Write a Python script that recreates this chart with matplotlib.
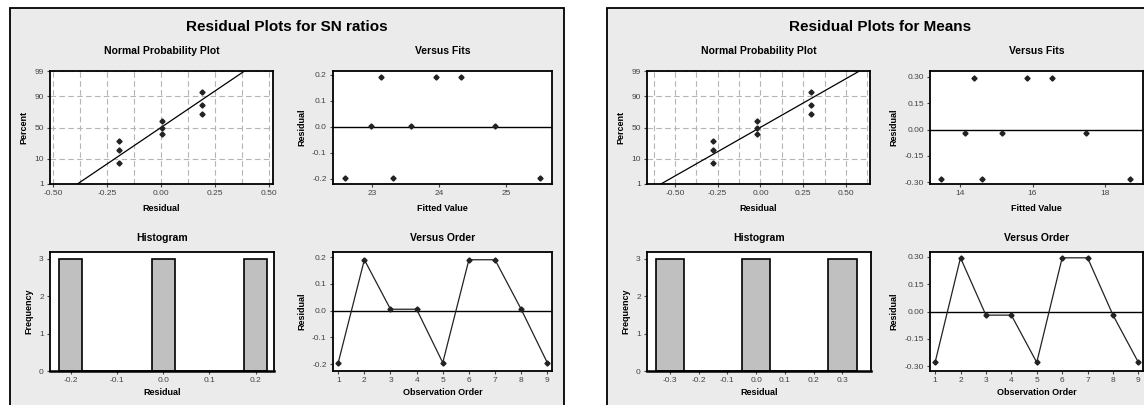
import numpy as np
import matplotlib
matplotlib.use('Agg')
import matplotlib.pyplot as plt
from matplotlib.patches import Rectangle
from matplotlib.ticker import MultipleLocator, FormatStrFormatter
from statistics import NormalDist

plt.rcParams['font.family'] = ['Liberation Sans', 'DejaVu Sans']

# observation order 1..9
order = [1, 2, 3, 4, 5, 6, 7, 8, 9]

# SN ratios
sn_resid = [-0.195, 0.19, 0.005, 0.005, -0.195, 0.19, 0.19, 0.005, -0.195]
sn_fits = [22.60, 23.13, 22.99, 23.58, 23.31, 23.96, 24.33, 24.84, 25.51]

# Means
mn_resid = [-0.28, 0.295, -0.02, -0.02, -0.28, 0.295, 0.295, -0.02, -0.28]
mn_fits = [13.47, 14.39, 14.14, 15.15, 14.59, 15.85, 16.55, 17.47, 18.70]

pct_ticks = [1, 10, 50, 90, 99]

W, H = 1144, 405
fig = plt.figure(figsize=(W / 100, H / 100), dpi=100)
fig.patch.set_facecolor('white')

nd = NormalDist()
tick_col = '#444444'


def ax_at(x0, y0, x1, y1):
    # pixel box -> figure axes
    ax = fig.add_axes([x0 / W, 1 - y1 / H, (x1 - x0) / W, (y1 - y0) / H])
    for s in ax.spines.values():
        s.set_linewidth(1.3)
        s.set_color('black')
    ax.tick_params(labelsize=6, colors=tick_col, length=2.5, width=0.8, pad=2)
    return ax


def lab(ax, xl, yl, title, top):
    ax.set_xlabel(xl, fontsize=6.5, fontweight='bold', labelpad=5 if top else 2.5)
    ax.set_ylabel(yl, fontsize=6.5, fontweight='bold', labelpad=4)
    ax.set_title(title, fontsize=7.5, fontweight='bold', pad=12 if top else 8)


def panel(x0, x1, title, resid, fits, nxlim, nmajor, fxlim, fstep, fylim, fyt, yfmt,
          hbins, hxlim, hxt, oylim):
    fig.patches.append(Rectangle((x0 / W, -0.1), (x1 - x0) / W, 1.1 - 8 / H,
                                 transform=fig.transFigure, facecolor='#ebebeb',
                                 edgecolor='black', linewidth=1.3, zorder=-10))
    cx = (x0 + x1) / 2 if x1 < W else x0 + 273
    fig.text(cx / W, 1 - 27 / H, title, ha='center', va='center',
             fontsize=11, fontweight='bold')

    left = x0 + 40
    right_l = x0 + 263
    fx0 = x0 + 323
    fx1 = min(x0 + 542, W - 1)

    # normal probability plot
    ax = ax_at(left, 71, right_l, 184)
    r = np.sort(np.array(resid))
    n = len(r)
    p = (np.arange(1, n + 1) - 0.3) / (n + 0.4)
    z = np.array([nd.inv_cdf(q) for q in p])
    mu, sd = np.mean(resid), np.std(resid, ddof=1)
    zl = np.array([nd.inv_cdf(0.01), nd.inv_cdf(0.99)])
    ax.plot(mu + sd * zl, zl, color='black', lw=0.9, zorder=3)
    ax.plot(r, z, 'D', color='#222222', ms=2.6, zorder=4)
    ax.set_xlim(nxlim)
    ax.set_ylim(zl[0], zl[1])
    ax.set_yticks([nd.inv_cdf(v / 100) for v in pct_ticks])
    ax.set_yticklabels([str(v) for v in pct_ticks])
    ax.set_xticks(nmajor)
    ax.set_xticklabels(['%.2f' % v for v in nmajor])
    ax.xaxis.set_minor_locator(MultipleLocator(0.125))
    ax.tick_params(which='minor', length=0)
    ax.grid(True, which='both', axis='x', color='#b5b5b5', ls=(0, (5, 3)), lw=0.8)
    ax.grid(True, which='major', axis='y', color='#b5b5b5', ls=(0, (5, 3)), lw=0.8)
    lab(ax, 'Residual', 'Percent', 'Normal Probability Plot', True)

    # versus fits
    ax = ax_at(fx0, 71, fx1, 184)
    ax.axhline(0, color='black', lw=1)
    ax.plot(fits, resid, 'D', color='#222222', ms=2.6)
    ax.set_xlim(fxlim)
    ax.set_ylim(fylim)
    ax.set_yticks(fyt)
    ax.yaxis.set_major_formatter(FormatStrFormatter(yfmt))
    ax.xaxis.set_major_locator(MultipleLocator(fstep))
    lab(ax, 'Fitted Value', 'Residual', 'Versus Fits', True)

    # histogram
    ax = ax_at(left, 252, right_l + 1, 371)
    ax.hist(resid, bins=hbins, facecolor='#c0c0c0', edgecolor='black', lw=1.2)
    ax.spines['bottom'].set_linewidth(1.8)
    ax.set_xlim(hxlim)
    ax.set_ylim(0, 3.18)
    ax.set_yticks([0, 1, 2, 3])
    ax.set_xticks(hxt)
    ax.set_xticklabels(['%.1f' % v for v in hxt])
    lab(ax, 'Residual', 'Frequency', 'Histogram', False)

    # versus order
    ax = ax_at(fx0, 252, fx1, 371)
    ax.axhline(0, color='black', lw=1)
    ax.plot(order, resid, '-D', color='#222222', lw=0.9, ms=2.6)
    ax.set_xlim(0.8, 9.18)
    ax.set_ylim(oylim)
    ax.set_yticks(fyt)
    ax.yaxis.set_major_formatter(FormatStrFormatter(yfmt))
    ax.set_xticks(order)
    lab(ax, 'Observation Order', 'Residual', 'Versus Order', False)


panel(10, 564, 'Residual Plots for SN ratios', sn_resid, sn_fits,
      (-0.515, 0.52), [-0.5, -0.25, 0.0, 0.25, 0.5],
      (22.42, 25.69), 1, (-0.22, 0.215), [-0.2, -0.1, 0.0, 0.1, 0.2], '%.1f',
      np.arange(-0.225, 0.2251, 0.05), (-0.245, 0.24), [-0.2, -0.1, 0.0, 0.1, 0.2],
      (-0.226, 0.219))

panel(607, 1200, 'Residual Plots for Means', mn_resid, mn_fits,
      (-0.663, 0.64), [-0.5, -0.25, 0.0, 0.25, 0.5],
      (13.16, 19.06), 2, (-0.311, 0.334), [-0.30, -0.15, 0.0, 0.15, 0.30], '%.2f',
      np.arange(-0.35, 0.3501, 0.1), (-0.38, 0.40), [-0.3, -0.2, -0.1, 0.0, 0.1, 0.2, 0.3],
      (-0.327, 0.327))

fig.savefig('out.png', dpi=100)
